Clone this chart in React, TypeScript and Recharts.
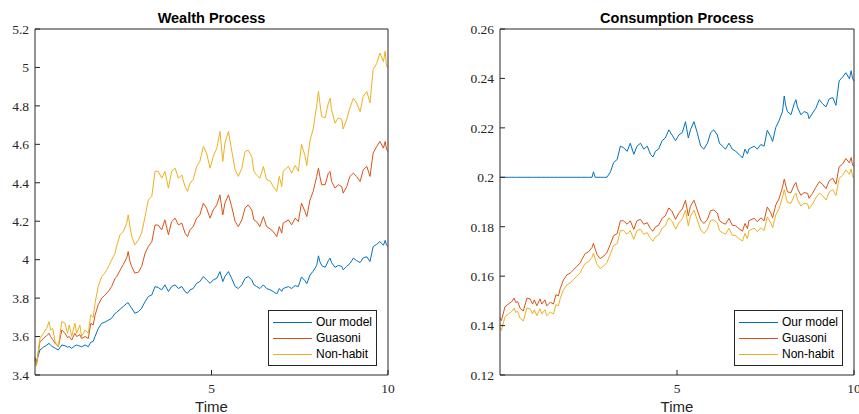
import React from 'react';
import { LineChart, Line, XAxis, YAxis } from 'recharts';

const TIME = [0, 0.04, 0.14, 0.24, 0.33, 0.4, 0.44, 0.5, 0.57, 0.66, 0.76, 0.85, 0.92, 0.97, 1.04, 1.13, 1.18, 1.27, 1.32, 1.42, 1.51, 1.58, 1.65, 1.7, 1.79, 1.89, 1.98, 2.08, 2.17, 2.27, 2.31, 2.41, 2.5, 2.6, 2.64, 2.69, 2.74, 2.83, 2.93, 3.02, 3.12, 3.21, 3.31, 3.4, 3.49, 3.59, 3.68, 3.78, 3.87, 3.97, 4.06, 4.16, 4.25, 4.32, 4.39, 4.48, 4.58, 4.67, 4.77, 4.86, 4.96, 5.05, 5.15, 5.24, 5.32, 5.38, 5.48, 5.57, 5.67, 5.76, 5.86, 5.95, 6.04, 6.14, 6.2, 6.28, 6.37, 6.47, 6.56, 6.66, 6.75, 6.85, 6.92, 6.99, 7.03, 7.18, 7.27, 7.37, 7.46, 7.55, 7.65, 7.7, 7.79, 7.88, 7.98, 8.03, 8.07, 8.12, 8.22, 8.31, 8.36, 8.4, 8.5, 8.59, 8.69, 8.73, 8.83, 8.92, 9.02, 9.11, 9.21, 9.3, 9.4, 9.49, 9.58, 9.68, 9.77, 9.87, 9.92, 9.96, 10];

const OUR_WEALTH = [3.49, 3.47, 3.53, 3.545, 3.555, 3.565, 3.555, 3.547, 3.54, 3.53, 3.556, 3.552, 3.545, 3.548, 3.539, 3.552, 3.556, 3.55, 3.547, 3.556, 3.547, 3.57, 3.575, 3.6, 3.64, 3.669, 3.675, 3.685, 3.695, 3.721, 3.725, 3.742, 3.756, 3.773, 3.776, 3.76, 3.747, 3.721, 3.73, 3.747, 3.782, 3.808, 3.817, 3.86, 3.855, 3.843, 3.869, 3.834, 3.86, 3.869, 3.85, 3.86, 3.834, 3.825, 3.843, 3.85, 3.877, 3.886, 3.912, 3.895, 3.877, 3.895, 3.903, 3.938, 3.886, 3.912, 3.938, 3.903, 3.86, 3.85, 3.869, 3.903, 3.912, 3.895, 3.869, 3.86, 3.85, 3.869, 3.85, 3.843, 3.834, 3.822, 3.85, 3.835, 3.85, 3.86, 3.85, 3.865, 3.86, 3.91, 3.89, 3.875, 3.92, 3.94, 3.97, 4.02, 3.99, 3.97, 3.96, 3.995, 4.008, 3.985, 3.96, 3.97, 3.965, 3.947, 3.965, 3.98, 4.008, 3.995, 3.985, 4.01, 4.015, 3.99, 4.068, 4.08, 4.094, 4.075, 4.1, 4.075, 4.068];

const GUASONI_WEALTH = [3.48, 3.45, 3.573, 3.59, 3.605, 3.617, 3.6, 3.585, 3.565, 3.547, 3.634, 3.617, 3.595, 3.6, 3.582, 3.617, 3.6, 3.61, 3.59, 3.6, 3.59, 3.669, 3.66, 3.71, 3.765, 3.8, 3.815, 3.835, 3.86, 3.903, 3.91, 3.945, 3.975, 4.01, 4.042, 3.99, 3.964, 3.93, 3.935, 3.964, 4.034, 4.068, 4.094, 4.18, 4.18, 4.155, 4.207, 4.13, 4.198, 4.216, 4.181, 4.19, 4.138, 4.12, 4.155, 4.172, 4.216, 4.233, 4.294, 4.268, 4.216, 4.259, 4.285, 4.337, 4.233, 4.294, 4.337, 4.277, 4.198, 4.172, 4.207, 4.268, 4.285, 4.259, 4.207, 4.198, 4.172, 4.224, 4.172, 4.16, 4.146, 4.12, 4.172, 4.138, 4.19, 4.207, 4.181, 4.216, 4.198, 4.294, 4.25, 4.224, 4.31, 4.355, 4.433, 4.476, 4.433, 4.39, 4.39, 4.45, 4.459, 4.407, 4.372, 4.39, 4.38, 4.346, 4.38, 4.433, 4.45, 4.433, 4.407, 4.468, 4.485, 4.433, 4.555, 4.589, 4.615, 4.58, 4.615, 4.572, 4.563];

const NONHABIT_WEALTH = [3.48, 3.45, 3.59, 3.617, 3.643, 3.678, 3.634, 3.643, 3.573, 3.547, 3.678, 3.669, 3.617, 3.66, 3.6, 3.669, 3.617, 3.66, 3.6, 3.634, 3.617, 3.712, 3.7, 3.773, 3.86, 3.912, 3.93, 3.964, 3.999, 4.034, 4.068, 4.13, 4.146, 4.19, 4.233, 4.172, 4.12, 4.077, 4.103, 4.138, 4.225, 4.31, 4.33, 4.46, 4.46, 4.424, 4.459, 4.372, 4.459, 4.476, 4.424, 4.44, 4.38, 4.355, 4.398, 4.416, 4.485, 4.511, 4.589, 4.555, 4.476, 4.537, 4.58, 4.667, 4.511, 4.607, 4.667, 4.57, 4.468, 4.433, 4.476, 4.563, 4.57, 4.537, 4.459, 4.44, 4.424, 4.485, 4.416, 4.41, 4.38, 4.355, 4.433, 4.38, 4.46, 4.485, 4.45, 4.49, 4.46, 4.6, 4.54, 4.49, 4.62, 4.68, 4.8, 4.875, 4.815, 4.745, 4.737, 4.815, 4.84, 4.78, 4.71, 4.737, 4.73, 4.68, 4.73, 4.79, 4.84, 4.815, 4.77, 4.85, 4.875, 4.815, 4.99, 5.02, 5.075, 5.03, 5.085, 5.005, 5.0];

const OUR_CONSUMPTION = [0.2, 0.2, 0.2, 0.2, 0.2, 0.2, 0.2, 0.2, 0.2, 0.2, 0.2, 0.2, 0.2, 0.2, 0.2, 0.2, 0.2, 0.2, 0.2, 0.2, 0.2, 0.2, 0.2, 0.2, 0.2, 0.2, 0.2, 0.2, 0.2, 0.2, 0.2, 0.2, 0.2, 0.2, 0.2022, 0.2, 0.2, 0.2, 0.2, 0.2, 0.2022, 0.206, 0.2072, 0.2126, 0.212, 0.2105, 0.2138, 0.2093, 0.2126, 0.2138, 0.2114, 0.2126, 0.2093, 0.2082, 0.2105, 0.2114, 0.2148, 0.2159, 0.2192, 0.2171, 0.2148, 0.2171, 0.2181, 0.2225, 0.2159, 0.2192, 0.2225, 0.2181, 0.2126, 0.2114, 0.2138, 0.2181, 0.2192, 0.2171, 0.2138, 0.2126, 0.2114, 0.2138, 0.2114, 0.2105, 0.2093, 0.2078, 0.2114, 0.2095, 0.2114, 0.2126, 0.2114, 0.2133, 0.2126, 0.219, 0.2164, 0.2145, 0.2202, 0.2228, 0.2266, 0.2329, 0.2291, 0.2266, 0.2253, 0.2298, 0.2314, 0.2285, 0.2253, 0.2266, 0.226, 0.2237, 0.226, 0.2279, 0.2314, 0.2298, 0.2285, 0.2317, 0.2323, 0.2291, 0.239, 0.2406, 0.2423, 0.2399, 0.2431, 0.2399, 0.239];

const GUASONI_CONSUMPTION = [0.1432, 0.142, 0.1476, 0.1487, 0.1497, 0.1511, 0.1494, 0.1497, 0.1469, 0.1459, 0.1511, 0.1508, 0.1487, 0.1504, 0.148, 0.1508, 0.1487, 0.1504, 0.148, 0.1494, 0.1487, 0.1525, 0.152, 0.1549, 0.1584, 0.1605, 0.1612, 0.1626, 0.164, 0.1654, 0.1667, 0.1692, 0.1698, 0.1716, 0.1733, 0.1709, 0.1688, 0.1671, 0.1681, 0.1695, 0.173, 0.1764, 0.1772, 0.1824, 0.1824, 0.181, 0.1824, 0.1789, 0.1824, 0.183, 0.181, 0.1816, 0.1792, 0.1782, 0.1799, 0.1806, 0.1834, 0.1844, 0.1876, 0.1862, 0.183, 0.1855, 0.1872, 0.1907, 0.1844, 0.1883, 0.1907, 0.1868, 0.1827, 0.1813, 0.183, 0.1865, 0.1868, 0.1855, 0.1824, 0.1816, 0.181, 0.1834, 0.1806, 0.1804, 0.1792, 0.1782, 0.1813, 0.1792, 0.1824, 0.1834, 0.182, 0.1836, 0.1824, 0.188, 0.1856, 0.1836, 0.1888, 0.1912, 0.196, 0.1993, 0.1969, 0.1941, 0.1938, 0.1969, 0.1979, 0.1955, 0.1927, 0.1938, 0.1935, 0.1915, 0.1935, 0.1959, 0.1982, 0.1972, 0.1954, 0.1986, 0.1996, 0.1972, 0.2042, 0.2054, 0.2076, 0.2058, 0.208, 0.2048, 0.2046];

const NONHABIT_CONSUMPTION = [0.1392, 0.138, 0.1436, 0.1447, 0.1457, 0.1471, 0.1454, 0.1457, 0.1429, 0.1419, 0.1471, 0.1468, 0.1447, 0.1464, 0.144, 0.1468, 0.1447, 0.1464, 0.144, 0.1454, 0.1447, 0.1485, 0.148, 0.1509, 0.1544, 0.1565, 0.1572, 0.1586, 0.16, 0.1614, 0.1627, 0.1652, 0.1658, 0.1676, 0.1693, 0.1669, 0.1648, 0.1631, 0.1641, 0.1655, 0.169, 0.1724, 0.1732, 0.1784, 0.1784, 0.177, 0.1784, 0.1749, 0.1784, 0.179, 0.177, 0.1776, 0.1752, 0.1742, 0.1759, 0.1766, 0.1794, 0.1804, 0.1836, 0.1822, 0.179, 0.1815, 0.1832, 0.1867, 0.1804, 0.1843, 0.1867, 0.1828, 0.1787, 0.1773, 0.179, 0.1825, 0.1828, 0.1815, 0.1784, 0.1776, 0.177, 0.1794, 0.1766, 0.1764, 0.1752, 0.1742, 0.1773, 0.1752, 0.1784, 0.1794, 0.178, 0.1796, 0.1784, 0.184, 0.1816, 0.1796, 0.1848, 0.1872, 0.192, 0.195, 0.1926, 0.1898, 0.1895, 0.1926, 0.1936, 0.1912, 0.1884, 0.1895, 0.1892, 0.1872, 0.1892, 0.1916, 0.1936, 0.1926, 0.1908, 0.194, 0.195, 0.1926, 0.1996, 0.2008, 0.203, 0.2012, 0.2034, 0.2002, 0.2];

const TIME_TICKS = [5, 10];
const WEALTH_TICKS = [3.4, 3.6, 3.8, 4, 4.2, 4.4, 4.6, 4.8, 5, 5.2];
const CONSUMPTION_TICKS = [0.12, 0.14, 0.16, 0.18, 0.2, 0.22, 0.24, 0.26];
const SERIES_NAMES = ['Our model', 'Guasoni', 'Non-habit'];
const SERIES_KEYS = ['our', 'guasoni', 'nonHabit'];
const COLORS = ['#0072BD', '#D95319', '#EDB120'];

const wealthRows = TIME.map((t, i) => ({
  t,
  our: OUR_WEALTH[i],
  guasoni: GUASONI_WEALTH[i],
  nonHabit: NONHABIT_WEALTH[i],
}));

const consumptionRows = TIME.map((t, i) => ({
  t,
  our: OUR_CONSUMPTION[i],
  guasoni: GUASONI_CONSUMPTION[i],
  nonHabit: NONHABIT_CONSUMPTION[i],
}));

const AXIS = '#262626';
const SERIF = '"Liberation Serif", "Times New Roman", serif';
const SANS = '"Liberation Sans", Arial, Helvetica, sans-serif';

const fmt1 = (v: number) => String(Number(v.toFixed(1)));
const fmt2 = (v: number) => String(Number(v.toFixed(2)));

type PanelProps = {
  rows: any[];
  width: number;
  yTicks: number[];
  yDomain: [number, number];
  yWidth: number;
  rightMargin: number;
  fmt: (v: number) => string;
};

function Panel({ rows, width, yTicks, yDomain, yWidth, rightMargin, fmt }: PanelProps) {
  const tickStyle = { fill: AXIS, fontSize: 13.5, fontFamily: SERIF };
  return (
    <LineChart
      width={width}
      height={414}
      data={rows}
      margin={{ top: 28, right: rightMargin, bottom: 0, left: 0 }}
    >
      <XAxis
        dataKey="t"
        type="number"
        domain={[0, 10]}
        ticks={TIME_TICKS}
        interval={0}
        height={39}
        tickSize={-5}
        tickMargin={13}
        tick={tickStyle}
        axisLine={{ stroke: AXIS }}
        tickLine={{ stroke: AXIS }}
      />
      <XAxis
        xAxisId="top"
        orientation="top"
        type="number"
        domain={[0, 10]}
        ticks={TIME_TICKS}
        interval={0}
        height={1}
        tickSize={-4}
        tick={false}
        axisLine={{ stroke: AXIS }}
        tickLine={{ stroke: AXIS }}
      />
      <YAxis
        type="number"
        domain={yDomain}
        ticks={yTicks}
        interval={0}
        width={yWidth}
        tickSize={-5}
        tickMargin={11}
        tickFormatter={fmt}
        tick={tickStyle}
        axisLine={{ stroke: AXIS }}
        tickLine={{ stroke: AXIS }}
      />
      <YAxis
        yAxisId="right"
        orientation="right"
        type="number"
        domain={yDomain}
        ticks={yTicks}
        interval={0}
        width={1}
        tickSize={-4}
        tick={false}
        axisLine={{ stroke: AXIS }}
        tickLine={{ stroke: AXIS }}
      />
      {SERIES_KEYS.map((k, i) => (
        <Line
          key={k}
          dataKey={k}
          name={SERIES_NAMES[i]}
          type="linear"
          stroke={COLORS[i]}
          strokeWidth={1}
          dot={false}
          activeDot={false}
          isAnimationActive={false}
        />
      ))}
    </LineChart>
  );
}

function LegendBox({ left, top }: { left: number; top: number }) {
  return (
    <div
      style={{
        position: 'absolute',
        left,
        top,
        width: 107,
        height: 51,
        border: '1px solid #262626',
        background: '#fff',
        fontFamily: SANS,
        fontSize: 12,
        color: '#000',
        paddingTop: 3,
        boxSizing: 'content-box',
      }}
    >
      {SERIES_NAMES.map((n, i) => (
        <div key={n} style={{ height: 16, display: 'flex', alignItems: 'center', whiteSpace: 'nowrap' }}>
          <svg width={43} height={16} style={{ marginLeft: 4, flex: 'none' }}>
            <line x1={0} x2={39} y1={8.5} y2={8.5} stroke={COLORS[i]} strokeWidth={1} />
          </svg>
          <span style={{ lineHeight: '16px' }}>{n}</span>
        </div>
      ))}
    </div>
  );
}

function Title({ text, cx }: { text: string; cx: number }) {
  return (
    <div
      style={{
        position: 'absolute',
        left: cx - 150,
        width: 300,
        top: 10.5,
        textAlign: 'center',
        fontFamily: SANS,
        fontWeight: 'bold',
        fontSize: 14.5,
        lineHeight: '14.5px',
        color: '#000',
        whiteSpace: 'nowrap',
      }}
    >
      {text}
    </div>
  );
}

function XLabel({ cx }: { cx: number }) {
  return (
    <div
      style={{
        position: 'absolute',
        left: cx - 50,
        width: 100,
        top: 399,
        textAlign: 'center',
        fontFamily: SANS,
        fontSize: 15,
        lineHeight: '15px',
        color: '#262626',
      }}
    >
      Time
    </div>
  );
}

export default function App() {
  return (
    <div style={{ position: 'absolute', left: 0, top: 0, width: 859, height: 414, background: '#fff', overflow: 'hidden' }}>
      <div style={{ position: 'absolute', left: 0, top: 0 }}>
        <Panel rows={wealthRows} width={430} yTicks={WEALTH_TICKS} yDomain={[3.4, 5.2]} yWidth={35} rightMargin={41} fmt={fmt1} />
      </div>
      <div style={{ position: 'absolute', left: 430, top: 0 }}>
        <Panel rows={consumptionRows} width={429} yTicks={CONSUMPTION_TICKS} yDomain={[0.12, 0.26]} yWidth={70} rightMargin={4} fmt={fmt2} />
      </div>
      <Title text="Wealth Process" cx={211.5} />
      <Title text="Consumption Process" cx={677} />
      <XLabel cx={211.5} />
      <XLabel cx={677} />
      <LegendBox left={268} top={310} />
      <LegendBox left={734} top={310} />
    </div>
  );
}
